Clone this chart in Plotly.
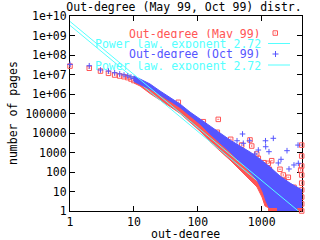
import plotly.graph_objects as go

RED = "#ff5555"
BLUE = "#5555ff"
CYAN = "#55ffff"
FONT = "DejaVu Sans Mono"

# ---- data ----
# individual points at small out-degree
may_k = [1, 2, 3, 4, 5, 6, 7, 8, 9, 10]
may_n = [2.7e7, 2.09e7, 1.5e7, 1.15e7, 9.4e6, 8.4e6, 7.7e6, 6.9e6, 5.9e6, 4.9e6]
oct_k = [1, 2, 3, 4, 5, 6, 7, 8, 9, 10]
oct_n = [3.3e7, 2.8e7, 1.7e7, 1.5e7, 1.23e7, 1.07e7, 9.4e6, 8.4e6, 7.4e6, 6.2e6]

# dense region (points merge into a band): upper / lower envelopes
band_k = [10, 12.5, 17.9, 25.6, 36.7, 52.7, 75.5, 108, 155, 223, 319, 458, 656, 940, 1349, 1933, 2773, 4272]
oct_hi = [8.4e6, 5.9e6, 3.26e6, 1.43e6, 6.6e5, 3.07e5, 1.19e5, 5.2e4, 2.29e4, 1.0e4, 4.4e3, 2.15e3, 1.06e3, 465, 180, 62, 27, 12]
may_hi = [6.6e6, 4.6e6, 2.57e6, 1.12e6, 5.2e5, 2.4e5, 9.4e4, 4.1e4, 1.8e4, 7.9e3, 3.45e3, 1.7e3, 838, 366, 143, 49, 21.5, 9.4]

oct_lo_k = [10, 12.5, 17.9, 25.6, 36.7, 52.7, 75.5, 108, 155, 223, 319, 458, 656, 844, 1048, 1167, 1300, 4272]
oct_lo = [4.38e6, 3.07e6, 1.8e6, 8.9e5, 4.38e5, 2.03e5, 7.9e4, 2.9e4, 8.9e3, 3.07e3, 1.06e3, 345, 100, 38.9, 9.4, 3.26, 1.51, 1.51]
may_lo_k = [10, 12.5, 17.9, 25.6, 36.7, 52.7, 75.5, 108, 155, 223, 319, 458, 656, 844, 1011, 1127, 1256, 4272]
may_lo = [3.67e6, 2.57e6, 1.06e6, 4.9e5, 2.28e5, 1.02e5, 3.67e4, 1.27e4, 3.66e3, 1.19e3, 412, 134, 38.9, 17, 5.2, 1.8, 1.51, 1.51]

# single-page row at the bottom
may_row_k = [1256, 4272]
oct_row_k = [1735, 3566]
row_n = [0.745, 1.34]

# scattered outliers above the band
oct_out_k = [501, 411, 644, 1146, 1520, 1155, 2489, 885, 1300, 3700, 2004, 1820, 3200, 2673, 785, 515, 3740]
oct_out_n = [8.9e3, 4.0e3, 4.0e3, 4.0e3, 5.35e3, 1.98e3, 1.24e3, 1.34e3, 1.1e3, 2.4e3, 448, 290, 229, 143, 838, 2.97e3, 279]
may_out_k = [49.5, 122, 209, 202, 327, 656, 698, 486, 836, 885, 1086, 1433, 1315, 2608, 2178, 2233, 3200,
             4227, 4227, 4227, 4074, 1933, 1268, 4227, 4227, 4227, 4227, 4227, 4227]
may_out_n = [3.75e5, 3.8e4, 5.0e4, 1.09e4, 4.75e3, 4.4e3, 2.15e3, 2.4e3, 838, 504, 300, 380, 138, 53.5, 70, 35.8, 16.4,
             2.4e3, 662, 203, 127, 138, 279, 70, 27, 12, 5.2, 2.3, 1]

# power-law fits
fit_exponent = 2.72
may_fit_c = 3.3e9
oct_fit_c = 5.25e9
fit_k = [1, 4272]

x_ticks = [1, 10, 100, 1000]
x_text = ["1", "10", "100", "1000"]
y_ticks = [1, 10, 100, 1e3, 1e4, 1e5, 1e6, 1e7, 1e8, 1e9, 1e10]
y_text = ["1", "10", "100", "1000", "10000", "100000", "1e+06", "1e+07", "1e+08", "1e+09", "1e+10"]

legend_labels = ["Out-degree (May 99)", "Power law, exponent 2.72",
                 "Out-degree (Oct 99)", "Power law, exponent 2.72"]
legend_colors = [RED, CYAN, BLUE, CYAN]

fig = go.Figure()


def band(kh, hi, kl, lo, color):
    fig.add_trace(go.Scatter(x=list(kh) + list(kl)[::-1], y=list(hi) + list(lo)[::-1],
                             fill="toself", fillcolor=color, mode="lines",
                             line=dict(color=color, width=1), hoverinfo="skip", showlegend=False))


# May 99
band(band_k, may_hi, may_lo_k, may_lo, RED)
band(may_row_k, [row_n[1]] * 2, may_row_k, [row_n[0]] * 2, RED)
fig.add_trace(go.Scatter(x=may_k + may_out_k, y=may_n + may_out_n, mode="markers",
                         marker=dict(symbol="square-open-dot", size=4.5, color=RED, line=dict(color=RED, width=1)),
                         cliponaxis=False, showlegend=False))
fig.add_trace(go.Scatter(x=fit_k, y=[may_fit_c * k ** -fit_exponent for k in fit_k], mode="lines",
                         line=dict(color=CYAN, width=1), showlegend=False))
# Oct 99
band(band_k, oct_hi, oct_lo_k, oct_lo, BLUE)
band(oct_row_k, [row_n[1]] * 2, oct_row_k, [row_n[0]] * 2, BLUE)
fig.add_trace(go.Scatter(x=oct_k + oct_out_k, y=oct_n + oct_out_n, mode="markers",
                         marker=dict(symbol="cross-thin-open", size=4, color=BLUE, line=dict(color=BLUE, width=1)),
                         cliponaxis=False, showlegend=False))
fig.add_trace(go.Scatter(x=fit_k, y=[oct_fit_c * k ** -fit_exponent for k in fit_k], mode="lines",
                         line=dict(color=CYAN, width=1), showlegend=False))

# plot-area pixel helpers (layout only)
L, R, T, B = 70, 302, 16, 211


def px(x):
    return (x - L) / (R - L)


def py(y):
    return (B - y) / (B - T)


row_y = [33, 43.5, 54, 65]
ann = []
shapes = []
for lab, col, yy in zip(legend_labels, legend_colors, row_y):
    ann.append(dict(x=px(261.5), y=py(yy), xref="paper", yref="paper", text=lab, showarrow=False,
                    xanchor="right", yanchor="middle", borderpad=0, height=9,
                    font=dict(family=FONT, size=11.5, color=col)))
# x-axis title
ann.append(dict(x=px(185), y=py(233.5), xref="paper", yref="paper", text="out-degree", showarrow=False,
                xanchor="center", yanchor="middle", borderpad=0, height=9,
                font=dict(family=FONT, size=11.5, color="black")))
# y-axis title
ann.append(dict(x=px(13), y=py(113), xref="paper", yref="paper", text="number of pages", showarrow=False,
                textangle=-90, xanchor="center", yanchor="middle", font=dict(family=FONT, size=11.5, color="black")))

# legend samples
shapes.append(dict(type="rect", xref="paper", yref="paper", x0=px(273), x1=px(277.5), y0=py(35.3), y1=py(30.8),
                   line=dict(color=RED, width=1)))
shapes.append(dict(type="rect", xref="paper", yref="paper", x0=px(274.7), x1=px(275.7), y0=py(33.6), y1=py(32.6),
                   line=dict(width=0), fillcolor=RED))
shapes.append(dict(type="line", xref="paper", yref="paper", x0=px(268), x1=px(290), y0=py(43.5), y1=py(43.5),
                   line=dict(color=CYAN, width=1)))
shapes.append(dict(type="line", xref="paper", yref="paper", x0=px(272.5), x1=px(278.5), y0=py(54), y1=py(54),
                   line=dict(color=BLUE, width=1)))
shapes.append(dict(type="line", xref="paper", yref="paper", x0=px(275.5), x1=px(275.5), y0=py(51), y1=py(57),
                   line=dict(color=BLUE, width=1)))
shapes.append(dict(type="line", xref="paper", yref="paper", x0=px(268), x1=px(290), y0=py(65), y1=py(65),
                   line=dict(color=CYAN, width=1)))

axis_common = dict(type="log", showline=True, linecolor="black", linewidth=1, mirror="allticks",
                   ticks="inside", ticklen=5, tickcolor="black", showgrid=False, zeroline=False,
                   automargin=False,
                   tickfont=dict(family=FONT, size=11.5, color="black"), layer="below traces")

fig.update_layout(
    width=320, height=240,
    margin=dict(l=L, r=320 - R, t=T, b=240 - B, autoexpand=False),
    paper_bgcolor="white", plot_bgcolor="white",
    showlegend=False,
    title=dict(text="Out-degree (May 99, Oct 99) distr.", x=184 / 320, xanchor="center",
               y=1 - 6.5 / 240, yanchor="middle", font=dict(family=FONT, size=11.5, color="black")),
    xaxis=dict(axis_common, range=[0, 3.6306], tickvals=x_ticks, ticktext=x_text),
    yaxis=dict(axis_common, range=[0, 10], tickvals=y_ticks, ticktext=y_text),
    annotations=ann, shapes=shapes,
)

fig.write_html("out.html", config={"displayModeBar": False},
               post_script="document.body.style.margin='0';document.body.style.padding='0';")
